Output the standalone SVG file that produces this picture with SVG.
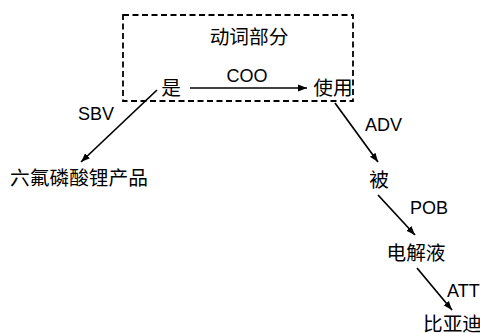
<svg xmlns="http://www.w3.org/2000/svg" width="480" height="333" viewBox="0 0 480 333">
<style>
.t{font-family:"Liberation Sans","Noto Sans CJK SC",sans-serif;font-size:18px;fill:#000}
.c{font-family:"Noto Sans CJK SC",sans-serif;font-size:19.7px;fill:#000}
.l{stroke:#000;stroke-width:1.7;fill:none;marker-end:url(#ah)}
</style>
<defs>
<marker id="ah" viewBox="0 0 10 10" refX="10" refY="5" markerWidth="9" markerHeight="9" orient="auto" markerUnits="userSpaceOnUse">
<path d="M0,1.2 L10,5 L0,8.8 Z" fill="#000"/>
</marker>
</defs>
<rect width="480" height="333" fill="#fff"/>
<g id="group-dongci">
<rect x="123" y="15" width="230" height="86" fill="none" stroke="#000" stroke-width="1.8" stroke-dasharray="6,3.5"/>
<text class="c" x="249" y="44" text-anchor="middle">动词部分</text>
</g>
<g id="node-shi"><text class="c" x="171" y="95" text-anchor="middle">是</text></g>
<g id="node-shiyong"><text class="c" x="333" y="95" text-anchor="middle">使用</text></g>
<g id="node-liuhuma"><text class="c" x="79" y="185" text-anchor="middle">六氟磷酸锂产品</text></g>
<g id="node-bei"><text class="c" x="379" y="187" text-anchor="middle">被</text></g>
<g id="node-dianjieye"><text class="c" x="416" y="260" text-anchor="middle">电解液</text></g>
<g id="node-biyadi"><text class="c" x="423" y="331">比亚迪</text></g>
<g id="connectors">
<line class="l" x1="190" y1="88" x2="307" y2="88"/>
<line class="l" x1="157" y1="90" x2="81" y2="162"/>
<line class="l" x1="335" y1="103" x2="378" y2="162"/>
<line class="l" x1="378" y1="195" x2="415" y2="235"/>
<line class="l" x1="417" y1="268" x2="452" y2="310"/>
<text class="t" x="247" y="82" text-anchor="middle">COO</text>
<text class="t" x="78" y="120">SBV</text>
<text class="t" x="365" y="131">ADV</text>
<text class="t" x="410" y="214">POB</text>
<text class="t" x="447" y="297">ATT</text>
</g>
</svg>
